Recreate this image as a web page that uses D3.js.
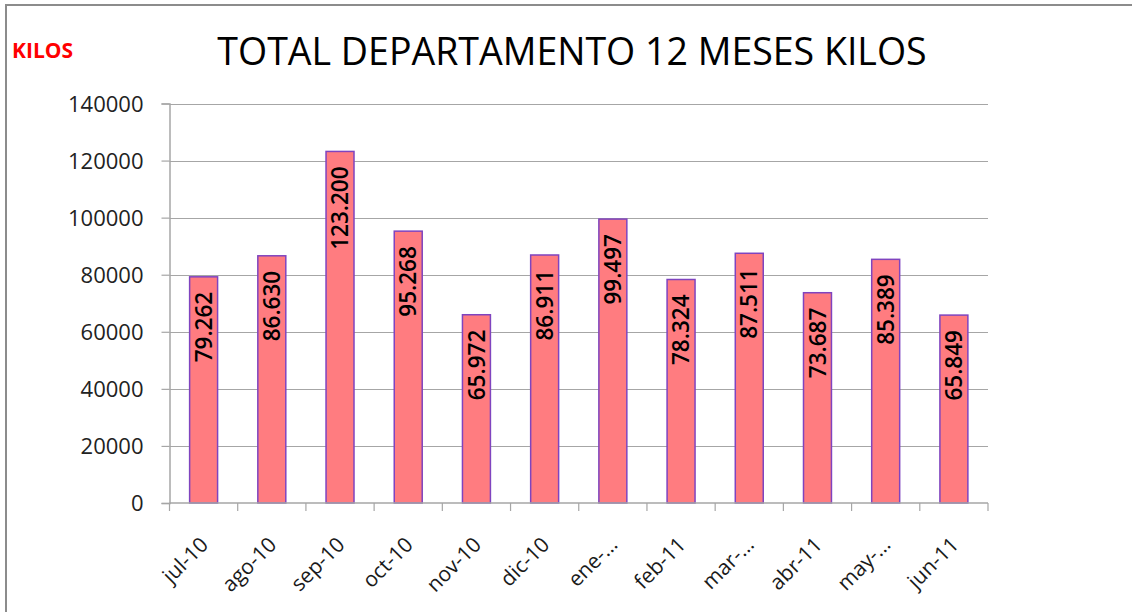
<!DOCTYPE html>
<html>
<head>
<meta charset="utf-8">
<script src="https://cdn.jsdelivr.net/npm/d3@7"></script>
<style>
  html, body { margin: 0; padding: 0; background: #fff; }
  svg { display: block; }
  text { font-family: "Open Sans", "Noto Sans", sans-serif; }
</style>
</head>
<body>
<svg id="chart" width="1132" height="612"></svg>
<script>
const categories = ["jul-10","ago-10","sep-10","oct-10","nov-10","dic-10","ene-11","feb-11","mar-11","abr-11","may-11","jun-11"];
const categoryLabels = ["jul-10","ago-10","sep-10","oct-10","nov-10","dic-10","ene-…","feb-11","mar-…","abr-11","may-…","jun-11"];
const values = [79262, 86630, 123200, 95268, 65972, 86911, 99497, 78324, 87511, 73687, 85389, 65849];
const yTicks = [0, 20000, 40000, 60000, 80000, 100000, 120000, 140000];
const titleText = "TOTAL DEPARTAMENTO 12 MESES KILOS";
const unitText = "KILOS";

const svg = d3.select("#chart");
const W = 1132, H = 612;
const plot = { left: 169.5, right: 988, top: 103.5, bottom: 503 };

// outer border (top and left visible)
svg.append("rect").attr("x", 6).attr("y", 5).attr("width", W + 20).attr("height", H + 20)
  .attr("fill", "none").attr("stroke", "#8c8c8c").attr("stroke-width", 2);

const x = d3.scaleBand().domain(categories).range([plot.left, plot.right]).paddingInner(0.59).paddingOuter(0.295);
const xb = d3.scaleBand().domain(categories).range([plot.left, plot.right]);
const y = d3.scaleLinear().domain([0, 140000]).range([plot.bottom, plot.top]);

// gridlines
svg.append("g").selectAll("line").data(yTicks.filter(d => d > 0)).join("line")
  .attr("x1", plot.left).attr("x2", plot.right)
  .attr("y1", d => Math.round(y(d)) + 0.5).attr("y2", d => Math.round(y(d)) + 0.5)
  .attr("stroke", "#a6a6a6").attr("stroke-width", 1.2);

// y axis
const yAxis = svg.append("g").attr("transform", `translate(${plot.left},0)`)
  .call(d3.axisLeft(y).tickValues(yTicks).tickSize(8).tickPadding(18).tickFormat(d3.format("d")));
yAxis.select(".domain").attr("stroke", "#a6a6a6").attr("stroke-width", 1.5);
yAxis.selectAll(".tick line").attr("stroke", "#a6a6a6").attr("stroke-width", 1.2);
yAxis.selectAll(".tick text").attr("font-size", 22).attr("fill", "#222")
  .attr("font-family", "'Open Sans', sans-serif").attr("dy", "0.35em");

// bars
svg.append("g").selectAll("rect").data(values).join("rect")
  .attr("x", (d, i) => x(categories[i]))
  .attr("width", x.bandwidth())
  .attr("y", d => y(d))
  .attr("height", d => y(0) - y(d))
  .attr("fill", "#ff7c80")
  .attr("stroke", "#7f44bf").attr("stroke-width", 1.5);

// x axis
const xAxisG = svg.append("g").attr("transform", `translate(0,${plot.bottom})`);
xAxisG.append("line").attr("x1", plot.left).attr("x2", plot.right).attr("y1", 0).attr("y2", 0)
  .attr("stroke", "#a6a6a6").attr("stroke-width", 1.5);
const bounds = categories.map(c => xb(c)).concat([plot.right]);
xAxisG.selectAll("line.tk").data(bounds).join("line").attr("class", "tk")
  .attr("x1", d => d).attr("x2", d => d).attr("y1", 0).attr("y2", 8)
  .attr("stroke", "#a6a6a6").attr("stroke-width", 1.2);
xAxisG.selectAll("text").data(categories).join("text")
  .attr("transform", c => `translate(${xb(c) + xb.bandwidth() / 2 + 6},${43}) rotate(-45)`)
  .attr("text-anchor", "end")
  .attr("font-size", 21).attr("fill", "#1a1a1a")
  .text((c, i) => categoryLabels[i]);

// data labels
const fmt = v => d3.format(",")(v).replace(/,/g, ".");
const lblSize = 22.5;
svg.append("g").selectAll("text").data(values).join("text")
  .attr("transform", (d, i) => `translate(${x(categories[i]) + x.bandwidth() / 2 + lblSize * 0.36},${y(d) + 15}) rotate(-90)`)
  .attr("text-anchor", "end")
  .attr("font-size", lblSize).attr("font-weight", 600).attr("fill", "#000")
  .text(d => fmt(d));

// title
svg.append("text").attr("x", 572).attr("y", 65).attr("text-anchor", "middle")
  .attr("font-size", 37.5).attr("fill", "#000").text(titleText);

// unit label
svg.append("text").attr("x", 12).attr("y", 58)
  .attr("font-size", 21).attr("font-weight", "bold").attr("fill", "#ff0000").text(unitText);
</script>
</body>
</html>
